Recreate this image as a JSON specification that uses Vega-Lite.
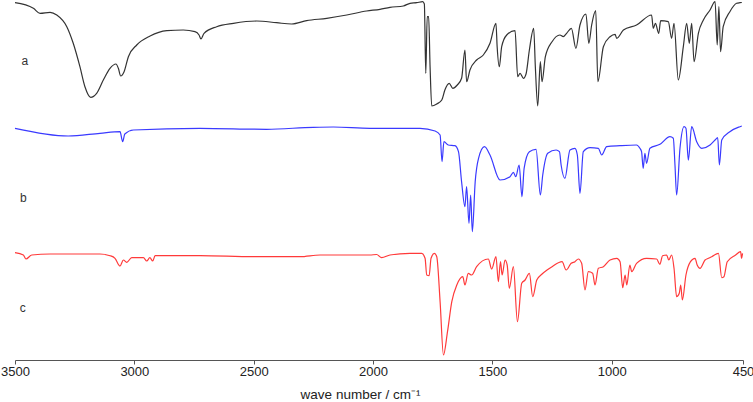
{
  "$schema": "https://vega.github.io/schema/vega-lite/v6.json",
  "autosize": "none",
  "width": 728,
  "height": 360,
  "padding": {"left": 15, "top": 0, "right": 10, "bottom": 42},
  "background": "white",
  "config": {"view": {"stroke": null}, "font": "Liberation Sans"},
  "datasets": {
    "spectra": [
      {"trace":"a","wn":3500,"T":358.3},{"trace":"a","wn":3423,"T":352.7},{"trace":"a","wn":3395,"T":347.7},{"trace":"a","wn":3353,"T":348.7},{"trace":"a","wn":3325,"T":346},{"trace":"a","wn":3283,"T":334.3},{"trace":"a","wn":3256,"T":317.7},{"trace":"a","wn":3228,"T":294.3},{"trace":"a","wn":3207,"T":274.3},{"trace":"a","wn":3183,"T":263.7},{"trace":"a","wn":3158,"T":267.7},{"trace":"a","wn":3130,"T":281},{"trace":"a","wn":3102,"T":292.7},{"trace":"a","wn":3077,"T":297},{"trace":"a","wn":3067,"T":292.7},{"trace":"a","wn":3057,"T":285},{"trace":"a","wn":3043,"T":289.3},{"trace":"a","wn":3025,"T":304.3},{"trace":"a","wn":2990,"T":316},{"trace":"a","wn":2934,"T":325},{"trace":"a","wn":2864,"T":330.3},{"trace":"a","wn":2795,"T":331},{"trace":"a","wn":2746,"T":329.3},{"trace":"a","wn":2729,"T":326},{"trace":"a","wn":2721,"T":322},{"trace":"a","wn":2708,"T":327.7},{"trace":"a","wn":2655,"T":334.3},{"trace":"a","wn":2585,"T":337.7},{"trace":"a","wn":2487,"T":340},{"trace":"a","wn":2404,"T":338.3},{"trace":"a","wn":2341,"T":337},{"trace":"a","wn":2278,"T":340.3},{"trace":"a","wn":2194,"T":342.7},{"trace":"a","wn":2110,"T":346},{"trace":"a","wn":2027,"T":350},{"trace":"a","wn":1971,"T":351.7},{"trace":"a","wn":1929,"T":353.7},{"trace":"a","wn":1873,"T":355},{"trace":"a","wn":1845,"T":357.7},{"trace":"a","wn":1817,"T":358.3},{"trace":"a","wn":1792,"T":359.3},{"trace":"a","wn":1785,"T":357},{"trace":"a","wn":1779,"T":287.7},{"trace":"a","wn":1773,"T":344.3},{"trace":"a","wn":1767,"T":344.3},{"trace":"a","wn":1761,"T":294.3},{"trace":"a","wn":1754,"T":255},{"trace":"a","wn":1733,"T":257},{"trace":"a","wn":1712,"T":261},{"trace":"a","wn":1699,"T":271},{"trace":"a","wn":1681,"T":277.7},{"trace":"a","wn":1666,"T":272.7},{"trace":"a","wn":1647,"T":276},{"trace":"a","wn":1629,"T":282.7},{"trace":"a","wn":1615,"T":311},{"trace":"a","wn":1608,"T":279.3},{"trace":"a","wn":1594,"T":291},{"trace":"a","wn":1566,"T":301},{"trace":"a","wn":1538,"T":306},{"trace":"a","wn":1510,"T":317.7},{"trace":"a","wn":1485,"T":337.7},{"trace":"a","wn":1480,"T":314.3},{"trace":"a","wn":1471,"T":294.3},{"trace":"a","wn":1461,"T":314.3},{"trace":"a","wn":1440,"T":326},{"trace":"a","wn":1405,"T":330.3},{"trace":"a","wn":1394,"T":284.3},{"trace":"a","wn":1384,"T":287.7},{"trace":"a","wn":1370,"T":282.7},{"trace":"a","wn":1359,"T":287},{"trace":"a","wn":1345,"T":311},{"trace":"a","wn":1327,"T":332.7},{"trace":"a","wn":1320,"T":294.3},{"trace":"a","wn":1310,"T":255},{"trace":"a","wn":1299,"T":299.3},{"trace":"a","wn":1292,"T":279.3},{"trace":"a","wn":1278,"T":304.3},{"trace":"a","wn":1250,"T":319.3},{"trace":"a","wn":1217,"T":326},{"trace":"a","wn":1203,"T":324.3},{"trace":"a","wn":1189,"T":327.7},{"trace":"a","wn":1169,"T":332.7},{"trace":"a","wn":1150,"T":312.7},{"trace":"a","wn":1133,"T":336},{"trace":"a","wn":1108,"T":347},{"trace":"a","wn":1096,"T":317.7},{"trace":"a","wn":1084,"T":336},{"trace":"a","wn":1067,"T":350.3},{"trace":"a","wn":1058,"T":279.3},{"trace":"a","wn":1035,"T":314.3},{"trace":"a","wn":1007,"T":324.3},{"trace":"a","wn":986,"T":326.7},{"trace":"a","wn":979,"T":322.7},{"trace":"a","wn":951,"T":331},{"trace":"a","wn":896,"T":336},{"trace":"a","wn":833,"T":346},{"trace":"a","wn":826,"T":332.7},{"trace":"a","wn":817,"T":337.7},{"trace":"a","wn":803,"T":327.7},{"trace":"a","wn":795,"T":340.3},{"trace":"a","wn":763,"T":339.3},{"trace":"a","wn":749,"T":322.7},{"trace":"a","wn":739,"T":337.7},{"trace":"a","wn":721,"T":281},{"trace":"a","wn":700,"T":314.3},{"trace":"a","wn":686,"T":337.7},{"trace":"a","wn":675,"T":317.7},{"trace":"a","wn":665,"T":337.7},{"trace":"a","wn":655,"T":299.3},{"trace":"a","wn":637,"T":327.7},{"trace":"a","wn":616,"T":341},{"trace":"a","wn":588,"T":351},{"trace":"a","wn":567,"T":359.3},{"trace":"a","wn":558,"T":316},{"trace":"a","wn":551,"T":354.3},{"trace":"a","wn":544,"T":309.3},{"trace":"a","wn":533,"T":334.3},{"trace":"a","wn":505,"T":349.3},{"trace":"a","wn":477,"T":357.7},{"trace":"a","wn":463,"T":358.3},{"trace":"a","wn":455,"T":358.5},

      {"trace":"b","wn":3500,"T":232.7},{"trace":"b","wn":3277,"T":225},{"trace":"b","wn":3144,"T":227.7},{"trace":"b","wn":3060,"T":229.3},{"trace":"b","wn":3049,"T":219.3},{"trace":"b","wn":3040,"T":227},{"trace":"b","wn":3004,"T":231},{"trace":"b","wn":2725,"T":232.7},{"trace":"b","wn":2446,"T":231.7},{"trace":"b","wn":2250,"T":233.7},{"trace":"b","wn":2166,"T":234},{"trace":"b","wn":2013,"T":232.7},{"trace":"b","wn":1971,"T":232.7},{"trace":"b","wn":1803,"T":232.7},{"trace":"b","wn":1740,"T":230},{"trace":"b","wn":1719,"T":226},{"trace":"b","wn":1711,"T":199.3},{"trace":"b","wn":1703,"T":219.3},{"trace":"b","wn":1685,"T":216},{"trace":"b","wn":1657,"T":215.3},{"trace":"b","wn":1642,"T":209.3},{"trace":"b","wn":1629,"T":179.3},{"trace":"b","wn":1615,"T":154.3},{"trace":"b","wn":1608,"T":174.3},{"trace":"b","wn":1598,"T":137.7},{"trace":"b","wn":1591,"T":166},{"trace":"b","wn":1584,"T":129.3},{"trace":"b","wn":1572,"T":179.3},{"trace":"b","wn":1558,"T":202.7},{"trace":"b","wn":1533,"T":214.3},{"trace":"b","wn":1510,"T":206},{"trace":"b","wn":1468,"T":181},{"trace":"b","wn":1426,"T":184.3},{"trace":"b","wn":1412,"T":188.7},{"trace":"b","wn":1402,"T":184.3},{"trace":"b","wn":1388,"T":196},{"trace":"b","wn":1376,"T":164.3},{"trace":"b","wn":1367,"T":192.7},{"trace":"b","wn":1345,"T":209.3},{"trace":"b","wn":1317,"T":211.7},{"trace":"b","wn":1299,"T":166},{"trace":"b","wn":1289,"T":186},{"trace":"b","wn":1268,"T":207.7},{"trace":"b","wn":1233,"T":211},{"trace":"b","wn":1219,"T":209.3},{"trace":"b","wn":1212,"T":196},{"trace":"b","wn":1196,"T":182.7},{"trace":"b","wn":1175,"T":211},{"trace":"b","wn":1154,"T":212.7},{"trace":"b","wn":1144,"T":206},{"trace":"b","wn":1133,"T":167.7},{"trace":"b","wn":1119,"T":209.3},{"trace":"b","wn":1091,"T":213.3},{"trace":"b","wn":1056,"T":212.7},{"trace":"b","wn":1042,"T":206},{"trace":"b","wn":1021,"T":214.3},{"trace":"b","wn":965,"T":215.3},{"trace":"b","wn":896,"T":216},{"trace":"b","wn":882,"T":212.7},{"trace":"b","wn":875,"T":209.3},{"trace":"b","wn":868,"T":192.7},{"trace":"b","wn":861,"T":207.7},{"trace":"b","wn":854,"T":197.7},{"trace":"b","wn":840,"T":212.7},{"trace":"b","wn":798,"T":216.7},{"trace":"b","wn":756,"T":224.3},{"trace":"b","wn":742,"T":222.7},{"trace":"b","wn":735,"T":196},{"trace":"b","wn":728,"T":166},{"trace":"b","wn":714,"T":212.7},{"trace":"b","wn":697,"T":234.3},{"trace":"b","wn":689,"T":232.7},{"trace":"b","wn":679,"T":201},{"trace":"b","wn":665,"T":234.3},{"trace":"b","wn":644,"T":219.3},{"trace":"b","wn":623,"T":212.7},{"trace":"b","wn":588,"T":216},{"trace":"b","wn":567,"T":221},{"trace":"b","wn":556,"T":223.3},{"trace":"b","wn":549,"T":196},{"trace":"b","wn":539,"T":221},{"trace":"b","wn":505,"T":229.3},{"trace":"b","wn":463,"T":234.3},{"trace":"b","wn":455,"T":235},

      {"trace":"c","wn":3500,"T":108.3},{"trace":"c","wn":3465,"T":106},{"trace":"c","wn":3454,"T":102},{"trace":"c","wn":3430,"T":106},{"trace":"c","wn":3353,"T":107},{"trace":"c","wn":3144,"T":107},{"trace":"c","wn":3102,"T":105.3},{"trace":"c","wn":3081,"T":102.7},{"trace":"c","wn":3060,"T":95},{"trace":"c","wn":3046,"T":101},{"trace":"c","wn":3032,"T":98.7},{"trace":"c","wn":3011,"T":103.3},{"trace":"c","wn":2962,"T":103.3},{"trace":"c","wn":2948,"T":100},{"trace":"c","wn":2935,"T":103.3},{"trace":"c","wn":2923,"T":100},{"trace":"c","wn":2913,"T":105.3},{"trace":"c","wn":2725,"T":105.3},{"trace":"c","wn":2502,"T":104.3},{"trace":"c","wn":2306,"T":104.3},{"trace":"c","wn":2222,"T":106},{"trace":"c","wn":2013,"T":106},{"trace":"c","wn":1985,"T":106.5},{"trace":"c","wn":1964,"T":103.3},{"trace":"c","wn":1929,"T":106},{"trace":"c","wn":1845,"T":107.7},{"trace":"c","wn":1796,"T":107.7},{"trace":"c","wn":1782,"T":102.7},{"trace":"c","wn":1775,"T":86},{"trace":"c","wn":1765,"T":85.3},{"trace":"c","wn":1757,"T":102.7},{"trace":"c","wn":1743,"T":107.7},{"trace":"c","wn":1733,"T":104.3},{"trace":"c","wn":1719,"T":59.3},{"trace":"c","wn":1705,"T":6},{"trace":"c","wn":1688,"T":29.3},{"trace":"c","wn":1670,"T":59.3},{"trace":"c","wn":1649,"T":76},{"trace":"c","wn":1624,"T":84.3},{"trace":"c","wn":1615,"T":76},{"trace":"c","wn":1601,"T":87.7},{"trace":"c","wn":1587,"T":86},{"trace":"c","wn":1566,"T":94.3},{"trace":"c","wn":1517,"T":102},{"trace":"c","wn":1503,"T":92},{"trace":"c","wn":1485,"T":104.3},{"trace":"c","wn":1475,"T":79.3},{"trace":"c","wn":1466,"T":99.3},{"trace":"c","wn":1459,"T":86},{"trace":"c","wn":1447,"T":101},{"trace":"c","wn":1438,"T":96},{"trace":"c","wn":1429,"T":72.7},{"trace":"c","wn":1412,"T":94.3},{"trace":"c","wn":1395,"T":39.3},{"trace":"c","wn":1377,"T":77.7},{"trace":"c","wn":1363,"T":81},{"trace":"c","wn":1345,"T":87.7},{"trace":"c","wn":1331,"T":64.3},{"trace":"c","wn":1314,"T":81},{"trace":"c","wn":1293,"T":86.7},{"trace":"c","wn":1271,"T":91},{"trace":"c","wn":1250,"T":94.3},{"trace":"c","wn":1208,"T":99.3},{"trace":"c","wn":1191,"T":91},{"trace":"c","wn":1170,"T":97.7},{"trace":"c","wn":1154,"T":99.3},{"trace":"c","wn":1140,"T":102},{"trace":"c","wn":1126,"T":97.7},{"trace":"c","wn":1112,"T":71},{"trace":"c","wn":1098,"T":89.3},{"trace":"c","wn":1080,"T":87.7},{"trace":"c","wn":1070,"T":76},{"trace":"c","wn":1056,"T":92.7},{"trace":"c","wn":1035,"T":94.3},{"trace":"c","wn":1007,"T":101},{"trace":"c","wn":979,"T":102.7},{"trace":"c","wn":965,"T":99.3},{"trace":"c","wn":954,"T":73.3},{"trace":"c","wn":944,"T":86},{"trace":"c","wn":937,"T":76},{"trace":"c","wn":924,"T":96},{"trace":"c","wn":916,"T":89.3},{"trace":"c","wn":896,"T":97.7},{"trace":"c","wn":854,"T":102.7},{"trace":"c","wn":812,"T":102},{"trace":"c","wn":798,"T":96.7},{"trace":"c","wn":787,"T":105.3},{"trace":"c","wn":770,"T":106},{"trace":"c","wn":761,"T":101},{"trace":"c","wn":749,"T":106},{"trace":"c","wn":739,"T":92.7},{"trace":"c","wn":728,"T":64.3},{"trace":"c","wn":717,"T":67.7},{"trace":"c","wn":711,"T":76},{"trace":"c","wn":704,"T":61},{"trace":"c","wn":689,"T":86},{"trace":"c","wn":670,"T":99.3},{"trace":"c","wn":651,"T":102.7},{"trace":"c","wn":642,"T":96},{"trace":"c","wn":630,"T":92.7},{"trace":"c","wn":609,"T":101},{"trace":"c","wn":595,"T":102.7},{"trace":"c","wn":581,"T":104.3},{"trace":"c","wn":553,"T":107.7},{"trace":"c","wn":539,"T":83.3},{"trace":"c","wn":530,"T":84.3},{"trace":"c","wn":516,"T":99.3},{"trace":"c","wn":481,"T":106},{"trace":"c","wn":460,"T":109.3},{"trace":"c","wn":456,"T":102.7},{"trace":"c","wn":452,"T":107.7}
    ],
    "labels": [
      {"trace":"a","wn":3459,"T":296},
      {"trace":"b","wn":3465,"T":158.7},
      {"trace":"c","wn":3468,"T":48.7}
    ]
  },
  "layer": [
    {
      "data": {"name": "spectra"},
      "mark": {"type": "line", "strokeWidth": 1.2, "interpolate": "monotone"},
      "encoding": {
        "x": {
          "field": "wn", "type": "quantitative",
          "scale": {"domain": [450, 3500], "reverse": true, "nice": false, "zero": false},
          "axis": {
            "title": "wave number / cm⁻¹",
            "values": [3500, 3000, 2500, 2000, 1500, 1000, 450],
            "format": "d",
            "grid": false,
            "domainColor": "#555555",
            "domainWidth": 1,
            "tickColor": "#555555",
            "tickSize": 4,
            "labelFontSize": 13,
            "labelColor": "#222222",
            "labelPadding": 1,
            "labelFlush": false,
            "labelOverlap": false,
            "titleFontSize": 13.5,
            "titleFontWeight": "normal",
            "titleColor": "#222222",
            "titlePadding": 9,
            "titleX": 345,
            "titleAlign": "center"
          }
        },
        "y": {
          "field": "T", "type": "quantitative",
          "scale": {"domain": [1, 361], "nice": false, "zero": false},
          "axis": null
        },
        "color": {
          "field": "trace", "type": "nominal",
          "scale": {"domain": ["a", "b", "c"], "range": ["#333333", "#3a3aff", "#ff3a3a"]},
          "legend": null
        },
        "detail": {"field": "trace"}
      }
    },
    {
      "data": {"name": "labels"},
      "mark": {"type": "text", "fontSize": 12, "color": "#333333", "align": "center", "baseline": "alphabetic"},
      "encoding": {
        "x": {"field": "wn", "type": "quantitative"},
        "y": {"field": "T", "type": "quantitative"},
        "text": {"field": "trace"}
      }
    }
  ]
}
